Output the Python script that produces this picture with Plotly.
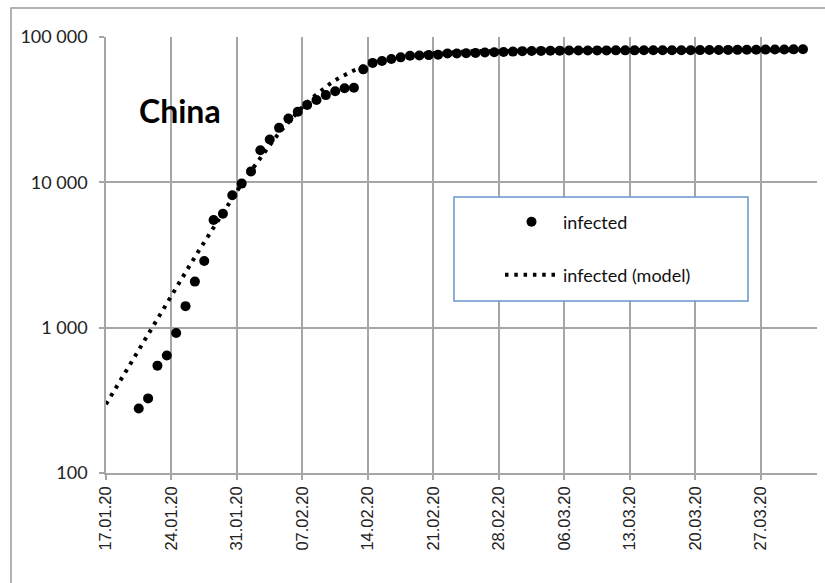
import datetime as dt
import plotly.graph_objects as go

# ---------------- data ----------------
data_start = "2020-01-20"
infected = [278, 326, 548, 643, 920, 1406, 2075, 2877, 5509, 6087, 8141, 9802,
            11891, 16630, 19716, 23707, 27440, 30587, 34110, 36814, 39829, 42354,
            44386, 44759, 59895, 66358, 68413, 70513, 72434, 74211, 74619, 75077,
            75550, 77001, 77022, 77241, 77754, 78166, 78600, 78928, 79356,
            79932, 80136, 80261, 80386, 80537, 80690, 80770, 80823, 80860, 80887,
            80921, 80932, 80945, 80977, 81003, 81033, 81058, 81102, 81156, 81250,
            81305, 81435, 81498, 81591, 81661, 81782, 81897, 81999, 82122, 82198,
            82279]

model_start = "2020-01-17"
infected_model = [297, 381, 488, 625, 800, 1024, 1308, 1670, 2130, 2713, 3447,
                  4369, 5518, 6947, 8699, 10830, 13386, 16404, 19902, 23873,
                  28263, 32994, 37957, 42994, 47957, 52700, 57082, 61058, 64562,
                  67584, 70153, 72282, 74040, 75467, 76618, 77542, 78283, 78863,
                  79326, 79685, 79976, 80200, 80375, 80511, 80619, 80702, 80767,
                  80819, 80858, 80890, 80914, 80933, 80948, 80960, 80969, 80976,
                  80981, 80985, 80988, 80991, 80993, 80994, 80995, 80996, 80997,
                  80998, 80998, 80999, 80999, 80999, 81000, 81000, 81000, 81000,
                  81000]

x_ticks = ["2020-01-17", "2020-01-24", "2020-01-31", "2020-02-07", "2020-02-14",
           "2020-02-21", "2020-02-28", "2020-03-06", "2020-03-13", "2020-03-20",
           "2020-03-27"]
x_tick_labels = ["17.01.20", "24.01.20", "31.01.20", "07.02.20", "14.02.20",
                 "21.02.20", "28.02.20", "06.03.20", "13.03.20", "20.03.20",
                 "27.03.20"]
y_ticks = [100, 1000, 10000, 100000]
y_tick_labels = ["100", "1 000", "10 000", "100 000"]
x_range = ["2020-01-17", "2020-04-02"]

# daily values plotted at mid-day (category-between-ticks style)
d0 = dt.datetime.fromisoformat(data_start)
data_x = [d0 + dt.timedelta(days=i, hours=12) for i in range(len(infected))]
m0 = dt.datetime.fromisoformat(model_start)
model_x = [m0 + dt.timedelta(days=i) for i in range(len(infected_model))]

GRID = "#a6a6a6"

fig = go.Figure()
fig.add_trace(go.Scatter(
    x=model_x, y=infected_model, mode="lines", name="infected (model)",
    line=dict(color="black", width=4, dash="3.5px,5.8px"),
    legend="legend2"))
fig.add_trace(go.Scatter(
    x=data_x, y=infected, mode="markers", name="infected",
    marker=dict(color="black", size=10, line=dict(width=0)),
    legend="legend"))

L, R, T, B = 106, 8, 37, 110
W, H = 825, 583
pw, ph = W - L - R, H - T - B

def px(xp):
    return (xp - L) / pw

def py(yp):
    return (H - B - yp) / ph

fig.update_layout(
    width=W, height=H,
    margin=dict(l=L, r=R, t=T, b=B, autoexpand=False),
    paper_bgcolor="white", plot_bgcolor="white",
    showlegend=True,
    legend=dict(x=500 / W, y=(H - 222) / H, xref="container", yref="container",
                xanchor="left", yanchor="middle", itemwidth=53,
                bgcolor="rgba(0,0,0,0)", borderwidth=0,
                font=dict(family="Lato", size=18, color="#111")),
    legend2=dict(x=500 / W, y=(H - 275) / H, xref="container", yref="container",
                 xanchor="left", yanchor="middle", itemwidth=53,
                 bgcolor="rgba(0,0,0,0)", borderwidth=0,
                 font=dict(family="Lato", size=18, color="#111")),
    shapes=[
        # outer chart border
        dict(type="rect", xref="paper", yref="paper",
             x0=px(11), x1=px(840), y0=py(600), y1=py(8),
             line=dict(color="#999999", width=1.5), layer="below"),
        # legend box
        dict(type="rect", xref="paper", yref="paper",
             x0=px(454), x1=px(748), y0=py(301), y1=py(197),
             line=dict(color="#6a97d2", width=1.5), fillcolor="white",
             layer="above"),
    ],
    annotations=[
        dict(text="<b>China</b>", xref="paper", yref="paper",
             x=px(180), y=py(110), xanchor="center", yanchor="middle",
             showarrow=False, font=dict(family="Lato", size=32, color="black")),
    ],
)

fig.update_xaxes(
    type="date", range=x_range,
    tickvals=x_ticks, ticktext=x_tick_labels, tickangle=-90,
    showgrid=True, gridcolor=GRID, gridwidth=1.5,
    showline=True, linecolor=GRID, linewidth=1.5,
    ticks="outside", ticklen=5, tickcolor=GRID, tickwidth=1.5,
    tickfont=dict(family="Liberation Sans", size=16.5, color="#222"),
    zeroline=False, fixedrange=True)
fig.update_yaxes(
    type="log", range=[2, 5],
    tickvals=y_ticks, ticktext=y_tick_labels,
    showgrid=True, gridcolor=GRID, gridwidth=1.5,
    showline=True, linecolor=GRID, linewidth=1.5,
    ticks="outside", ticklen=5, tickcolor=GRID, tickwidth=1.5,
    ticklabelstandoff=8,
    tickfont=dict(family="Lato", size=18, color="#222"),
    zeroline=False, fixedrange=True)

fig.write_html("out.html", config={"displayModeBar": False})
